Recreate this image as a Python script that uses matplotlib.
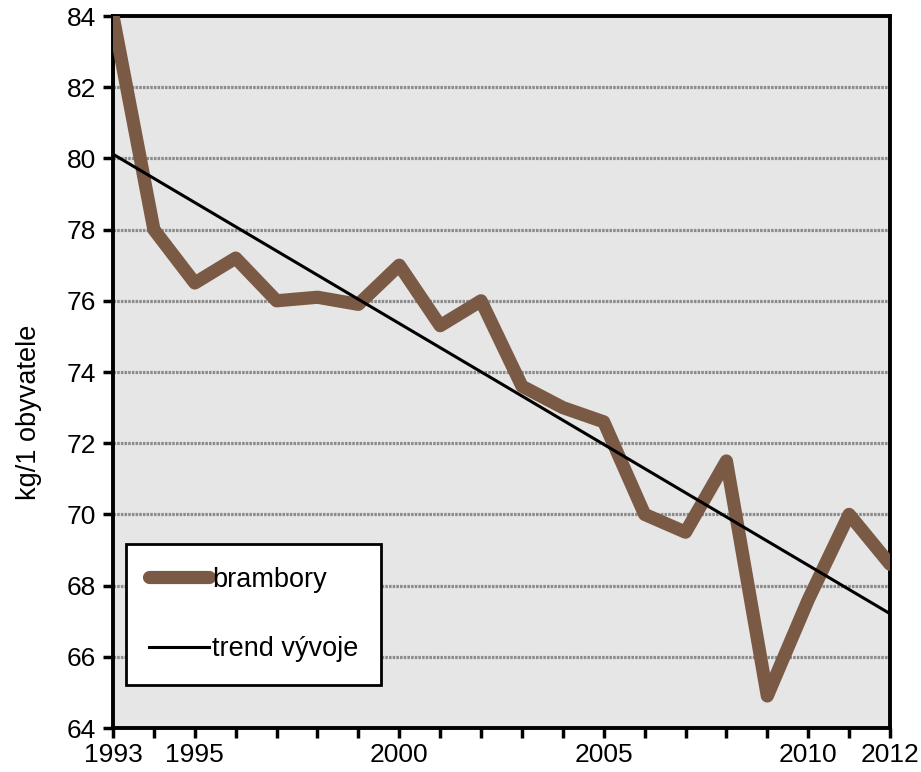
import numpy as np
import matplotlib
matplotlib.use('Agg')
import matplotlib.pyplot as plt

plt.rcParams['font.family'] = ['Liberation Sans', 'DejaVu Sans']

# spotreba brambor, kg/1 obyvatele
years = list(range(1993, 2013))
brambory = [84.0, 78.0, 76.5, 77.2, 76.0, 76.1, 75.9, 77.0, 75.3, 76.0,
            73.6, 73.0, 72.6, 70.0, 69.5, 71.5, 64.9, 67.6, 70.0, 68.6]
tick_years = [1993, 1995, 2000, 2005, 2010, 2012]
y_ticks = [64, 66, 68, 70, 72, 74, 76, 78, 80, 82, 84]

# linear trend like in Excel
coef = np.polyfit(years, brambory, 1)
trend = np.polyval(coef, years)

fig = plt.figure(figsize=(9.21, 7.72), dpi=100)
ax = fig.add_axes([113 / 921, 1 - 728 / 772, (890 - 113) / 921, (728 - 16) / 772])
ax.set_facecolor('#e6e6e6')

for v in y_ticks[1:-1]:
    ax.axhline(v, color='#8c8c8c', lw=2.3, ls=(0, (0.8, 0.35)), zorder=1)

ax.plot(years, brambory, color='#7a5a45', lw=9.5, solid_joinstyle='round',
        solid_capstyle='round', label='brambory', zorder=3)
ax.plot(years, trend, color='black', lw=2.2, label='trend vývoje', zorder=4)

ax.set_xlim(1993, 2012)
ax.set_ylim(64, 84)
ax.set_xticks(years, minor=True)
ax.set_xticks(tick_years)
ax.set_xticklabels([str(y) for y in tick_years])
ax.set_yticks(y_ticks)
ax.tick_params(axis='both', which='both', direction='out', length=7, width=2.5,
               labelsize=19, color='black')
ax.tick_params(axis='x', which='major', pad=4)
ax.tick_params(axis='y', which='major', pad=5)
ax.set_ylabel('kg/1 obyvatele', fontsize=19.5)
# label sits a bit below the axes middle in the original
ax.yaxis.set_label_coords(-0.091, 0.444)

for s in ax.spines.values():
    s.set_linewidth(2.8)
    s.set_color('black')

leg = ax.legend(loc='lower left', bbox_to_anchor=(0.017, 0.06), fontsize=19.5,
                frameon=True, fancybox=False, handlelength=2.2, handletextpad=0.12,
                labelspacing=1.6, borderpad=0.85, borderaxespad=0)
leg.get_frame().set_edgecolor('black')
leg.get_frame().set_linewidth(2)
leg.get_frame().set_facecolor('white')
leg.get_frame().set_alpha(1)
leg.get_lines()[0].set_solid_capstyle('round')

fig.savefig('out.png', dpi=100)
